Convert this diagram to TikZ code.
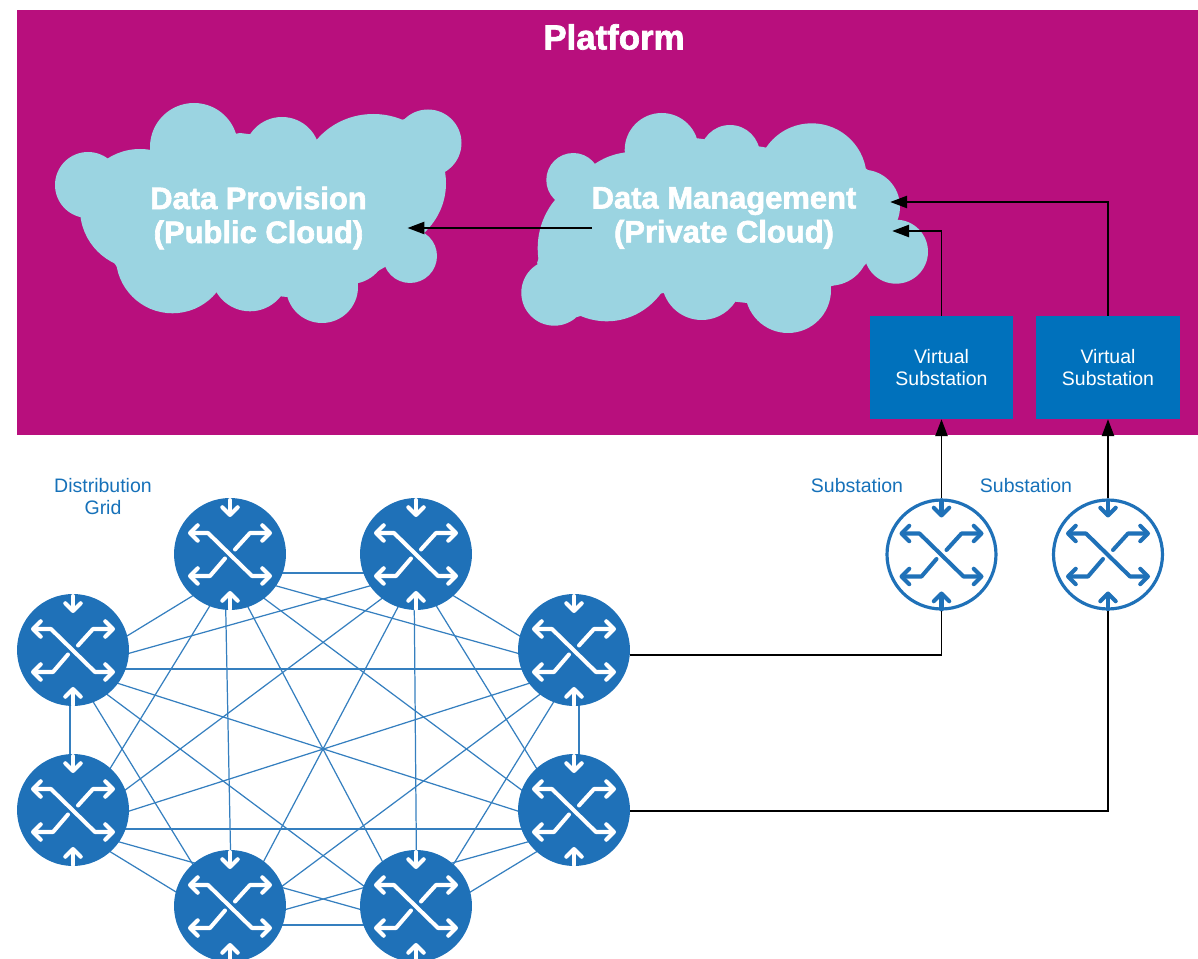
\documentclass[tikz,border=0pt]{standalone}
\usepackage{fontspec}
\setmainfont{Liberation Sans}
\newfontfamily\blackfont[FakeBold=2]{Liberation Sans Bold}
\usetikzlibrary{arrows.meta, positioning, backgrounds}
\definecolor{PlatformPink}{RGB}{184, 15, 125}
\definecolor{CloudBlue}{RGB}{155, 212, 225}
\definecolor{BoxBlue}{RGB}{0, 113, 188}
\definecolor{RouterBlue}{RGB}{31, 113, 184}
\tikzset{
    pics/routericon/.style={code={
        \draw[icontips, #1] (-42,-21) -- (-22,-21) -- (22,22) -- (42,22);
        \draw[icontip, #1] (-5,4.5) -- (-20,22) -- (-42,22);
        \draw[icontip, #1] (5,-4.5) -- (20,-21) -- (42,-21);
        \draw[icontip, #1] (0,-54) -- (0,-37);
        \draw[icontip, #1] (0,55) -- (0,37);
    }}
}
\begin{document}
\begin{tikzpicture}[
        x=0.02cm, y=-0.02cm,
        barb/.tip={Straight Barb[length=4.4pt, width=8.8pt, round]},
        icontip/.style={-barb, line width=2.3pt, line join=round, line cap=round},
        icontips/.style={barb-barb, line width=2.3pt, line join=round, line cap=round},
        router/.style={circle, fill=RouterBlue, minimum size=2.24cm, inner sep=0pt},
        substation/.style={circle, draw=RouterBlue, line width=1.8pt, fill=white, minimum size=2.18cm, inner sep=0pt},
        vbox/.style={rectangle, fill=BoxBlue, text=white, minimum width=2.88cm, minimum height=2.06cm, align=center, font=\fontsize{11.1}{12.5}\selectfont},
        bluetext/.style={text=RouterBlue!70!BoxBlue, align=center, font=\fontsize{11.1}{12.5}\selectfont},
        cloudtext/.style={text=white, align=center, inner sep=0pt, font=\blackfont\fontsize{17.6}{19.3}\selectfont},
        meshline/.style={RouterBlue!90!white, line width=0.7pt},
        flow/.style={-{Triangle[length=9.5pt, width=7pt]}, line width=0.7pt, black},
        wire/.style={line width=0.65pt, black}
    ]
        \useasboundingbox (0,0) rectangle (1198,959);
        \fill[PlatformPink] (17,10) rectangle (1198,435);
        \node[text=white, font=\blackfont\fontsize{19.8}{22}\selectfont] (platform) at (614,37) {Platform};

        % Public cloud
        \foreach \cx/\cy/\cr in {88/185/33, 194/147/44, 282/155/38, 428/143/33.5, 410/256/27, 322/287/36, 250/272.3/39, 172.5/256.6/56.7, 140/209/60, 350/247/37}
            \fill[CloudBlue] (\cx,\cy) circle (\cr);
        \fill[CloudBlue] (373.3,183.3) ellipse [x radius=72.7, y radius=69.3];
        \fill[CloudBlue] (118,170) -- (151,150) -- (240,133) -- (320,143) -- (405,119) -- (445,172) -- (423,233) -- (385,267) -- (357,283) -- (287,297) -- (218,290) -- (117,267) -- (83,218) -- cycle;
        \node[cloudtext, minimum width=4.32cm] (pubcloud) at (258.5,218) {Data Provision\\(Public Cloud)};

        % Private cloud
        \foreach \cx/\cy/\cr in {573.3/180/27, 661.7/150/37, 730/155/30, 811.7/178.3/55, 863/206.7/37, 896/251.7/32, 788/290/43, 830/246.7/39, 701.7/280/40, 554.3/292.7/33, 633.3/220/68}
            \fill[CloudBlue] (\cx,\cy) circle (\cr);
        \fill[CloudBlue] (606.7,248.3) ellipse [x radius=69, y radius=73];
        \fill[CloudBlue] (598,168) -- (626,152) -- (695,138) -- (763,147) -- (867,169) -- (898,217) -- (865,265) -- (832,286) -- (747,303) -- (738,302) -- (663,293) -- (577,317) -- (537,263) -- (559,203) -- cycle;
        \node[cloudtext, minimum width=5.44cm] (privcloud) at (724,218) {Data Management\\(Private Cloud)};

        \draw[flow] ([xshift=0.08cm, yshift=-0.2cm]privcloud.west) -- ([xshift=0.81cm, yshift=-0.2cm]pubcloud.east);

        % Virtual substations
        \node[vbox] (vbox1) at (941.5,367.5) {Virtual\\Substation};
        \node[vbox] (vbox2) at (1108,367.5) {Virtual\\Substation};
        \draw[flow] (vbox1.north) |- ([xshift=0.64cm, yshift=-0.26cm]privcloud.east);
        \draw[flow] (vbox2.north) |- ([xshift=0.6cm, yshift=0.32cm]privcloud.east);

        % Labels
        \node[bluetext] (gridlabel) at (103,497) {Distribution\\Grid};
        \node[bluetext] (sublabel1) at (857,486) {Substation};
        \node[bluetext] (sublabel2) at (1026,486) {Substation};

        % Distribution grid
        \foreach \name/\px/\py in {ra/73/650, rb/230/554, rc/416/554, rd/574/650, re/574/810, rf/416/906, rg/230/906, rh/73/810} {
            \node[router] (\name) at (\px,\py) {};
            \pic at (\name) {routericon=white};
        }
        \begin{scope}[on background layer]
            \foreach \src/\dstlist in {ra/{rb,rc,rd,re,rf,rg}, rb/{rc,rd,re,rf,rh}, rc/{rd,re,rg,rh}, rd/{rf,rg,rh}, re/{rf,rg,rh}, rf/{rg,rh}, rg/{rh}}
                \foreach \dst in \dstlist
                    \draw[meshline] ([yshift=-0.38cm]\src.center) -- ([yshift=-0.38cm]\dst.center);
            \draw[meshline] ([xshift=-0.06cm]ra.center) -- ([xshift=-0.06cm]rh.center);
            \draw[meshline] ([xshift=0.1cm]rd.center) -- ([xshift=0.1cm]re.center);
            \draw[meshline] ([xshift=-0.1cm, yshift=-0.38cm]rb.center) -- ([xshift=0.04cm, yshift=-0.38cm]rg.center);
            \draw[meshline] ([xshift=-0.04cm, yshift=-0.38cm]rc.center) -- ([xshift=0.02cm, yshift=-0.38cm]rf.center);
        \end{scope}

        % Substations
        \node[substation] (sub1) at (941.5,554.5) {};
        \node[substation] (sub2) at (1108,554.5) {};
        \pic at (sub1) {routericon=RouterBlue};
        \pic at (sub2) {routericon=RouterBlue};
        \draw[flow] (sub1.north) -- (vbox1.south);
        \draw[flow] (sub2.north) -- (vbox2.south);
        \draw[wire] ([yshift=-0.1cm]rd.east) -| (sub1.south);
        \draw[wire] ([yshift=-0.02cm]re.east) -| (sub2.south);
    \end{tikzpicture}
\end{document}
